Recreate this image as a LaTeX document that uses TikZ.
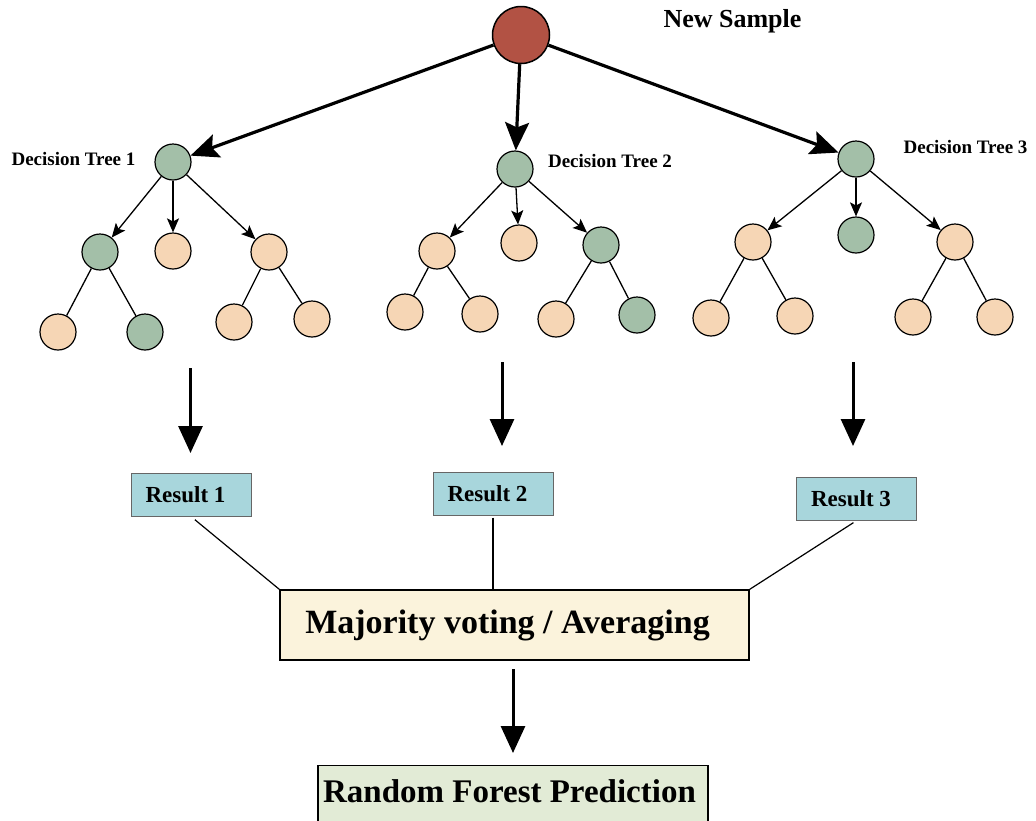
\documentclass[tikz,border=0pt]{standalone}
\usepackage{fontspec}
\setmainfont{Liberation Serif}
\usetikzlibrary{arrows.meta}
\definecolor{rootred}{RGB}{178,82,68}
\definecolor{treegreen}{RGB}{163,191,168}
\definecolor{peach}{RGB}{246,214,181}
\definecolor{resblue}{RGB}{168,214,220}
\definecolor{majfill}{RGB}{251,243,220}
\definecolor{predfill}{RGB}{226,235,214}
\begin{document}
\begin{tikzpicture}[x=1pt,y=-1pt,
  gnode/.style={circle,draw=black,line width=1.2pt,fill=treegreen,minimum size=36pt,inner sep=0pt},
  pnode/.style={circle,draw=black,line width=1.2pt,fill=peach,minimum size=36pt,inner sep=0pt},
  tarrow/.style={-{Stealth[length=14pt,width=12pt,inset=3pt]},line width=1.3pt},
  tline/.style={line width=1.3pt},
  bigarrow/.style={-{Stealth[length=28pt,width=24pt,inset=5pt]},line width=3.2pt},
  downarrow/.style={-{Triangle[length=27pt,width=24pt]},line width=3pt},
  treelabel/.style={anchor=base,font=\fontsize{19}{22}\selectfont\bfseries,inner sep=0pt},
  resbox/.style={draw=black!60,line width=1pt,fill=resblue,minimum width=120pt,minimum height=43pt,inner sep=0pt,font=\fontsize{23}{27}\selectfont\bfseries},
  joinline/.style={line width=1.2pt}
]
\useasboundingbox[fill=white] (0,0) rectangle (1036,820);

% root
\node[circle,draw=black,line width=1.5pt,fill=rootred,minimum size=57pt,inner sep=0pt] (root) at (521,35) {};
\node[anchor=base,font=\fontsize{26}{30}\selectfont\bfseries,inner sep=0pt] (newsample) at (732.5,27) {New Sample};

% tree 1
\node[gnode] (t1r) at (173,162) {};
\node[gnode] (t1a) at (100,252) {};
\node[pnode] (t1b) at (173,251) {};
\node[pnode] (t1c) at (269,252) {};
\node[pnode] (t1a1) at (58,332) {};
\node[gnode] (t1a2) at (145,332) {};
\node[pnode] (t1c1) at (234,322) {};
\node[pnode] (t1c2) at (312,319) {};
\node[treelabel] (lab1) at (73.5,165) {Decision Tree 1};

% tree 2
\node[gnode] (t2r) at (515,169) {};
\node[pnode] (t2a) at (437,251) {};
\node[pnode] (t2b) at (519,243) {};
\node[gnode] (t2c) at (601,245) {};
\node[pnode] (t2a1) at (405,312) {};
\node[pnode] (t2a2) at (480,314) {};
\node[pnode] (t2c1) at (556,319) {};
\node[gnode] (t2c2) at (637,315) {};
\node[treelabel] (lab2) at (610,167) {Decision Tree 2};

% tree 3
\node[gnode] (t3r) at (856,159) {};
\node[pnode] (t3a) at (753,242) {};
\node[gnode] (t3b) at (856,235) {};
\node[pnode] (t3c) at (955,242) {};
\node[pnode] (t3a1) at (711,318) {};
\node[pnode] (t3a2) at (795,316) {};
\node[pnode] (t3c1) at (913,317) {};
\node[pnode] (t3c2) at (995,317) {};
\node[treelabel] (lab3) at (965.5,153) {Decision Tree 3};

% root arrows
\draw[bigarrow] (root) -- (t1r);
\draw[bigarrow] (root) -- (t2r);
\draw[bigarrow] (root) -- (t3r);

% tree edges
\foreach \t in {1,2,3}{
  \draw[tarrow] (t\t r) -- (t\t a);
  \draw[tarrow] (t\t r) -- (t\t b);
  \draw[tarrow] (t\t r) -- (t\t c);
}
\draw[tline] (t1a) -- (t1a1); \draw[tline] (t1a) -- (t1a2);
\draw[tline] (t1c) -- (t1c1); \draw[tline] (t1c) -- (t1c2);
\draw[tline] (t2a) -- (t2a1); \draw[tline] (t2a) -- (t2a2);
\draw[tline] (t2c) -- (t2c1); \draw[tline] (t2c) -- (t2c2);
\draw[tline] (t3a) -- (t3a1); \draw[tline] (t3a) -- (t3a2);
\draw[tline] (t3c) -- (t3c1); \draw[tline] (t3c) -- (t3c2);

% results
\node[resbox] (r1) at (191,494.5) {\kern-11pt Result 1};
\node[resbox] (r2) at (493,493.5) {\kern-11pt Result 2};
\node[resbox] (r3) at (856,499) {\kern-10pt Result 3};

\coordinate (d1s) at (190.5,368); \coordinate (d1e) at (190.5,453);
\coordinate (d2s) at (502,362);   \coordinate (d2e) at (502,446);
\coordinate (d3s) at (853,362);   \coordinate (d3e) at (853,446);
\draw[downarrow] (d1s) -- (d1e);
\draw[downarrow] (d2s) -- (d2e);
\draw[downarrow] (d3s) -- (d3e);

% majority
\node[draw=black,line width=1.3pt,fill=majfill,minimum width=469pt,minimum height=70pt,inner sep=0pt,
      font=\fontsize{34}{40}\selectfont\bfseries] (maj) at (514.5,625) {\kern-14pt Majority voting / Averaging};
\draw[joinline,shorten <=5pt] (r1.south) -- (maj.north west);
\draw[joinline,shorten <=2pt] (r2.south) -- (r2.south |- maj.north);
\draw[joinline,shorten <=3pt] (r3.south) -- (maj.north east);

% prediction
\node[draw=black,line width=1.3pt,fill=predfill,anchor=north,minimum width=390pt,inner xsep=0pt,inner ysep=14pt,
      text height=23pt,text depth=45pt,font=\fontsize{33}{38}\selectfont\bfseries] (pred) at (513,765) {\kern-7pt Random Forest Prediction};
\coordinate (d4s) at (513,669); \coordinate (d4e) at (513,753);
\draw[downarrow] (d4s) -- (d4e);
\end{tikzpicture}
\end{document}
